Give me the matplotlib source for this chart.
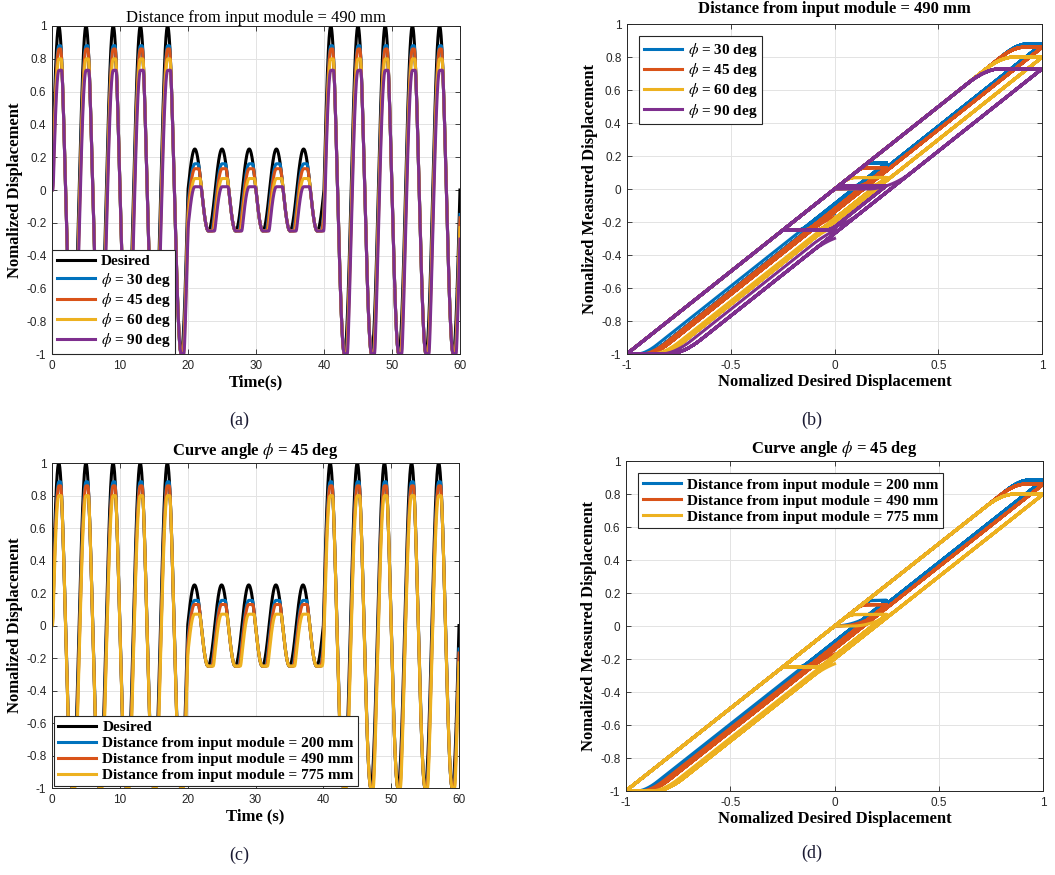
import numpy as np
import matplotlib

matplotlib.use("Agg")
import matplotlib.pyplot as plt
from matplotlib.ticker import FormatStrFormatter

# input signal: three sine blocks, period 4 s
seg_starts = [0.0, 20.0, 40.0]
seg_amps = [1.0, 0.25, 1.0]
period = 4.0
t_end = 60.0

# panel (a)/(b): curve angle at 490 mm
angle_labels = [r"$\phi$ = 30 deg", r"$\phi$ = 45 deg", r"$\phi$ = 60 deg", r"$\phi$ = 90 deg"]
angle_peak_high = [0.88, 0.86, 0.80, 0.73]
angle_peak_low = [0.16, 0.13, 0.07, 0.02]

# panel (c)/(d): distance at 45 deg
dist_labels = [
    "Distance from input module = 200 mm",
    "Distance from input module = 490 mm",
    "Distance from input module = 775 mm",
]
dist_peak_high = [0.885, 0.86, 0.80]
dist_peak_low = [0.155, 0.13, 0.07]

y_ticks = [-1, -0.8, -0.6, -0.4, -0.2, 0, 0.2, 0.4, 0.6, 0.8, 1]
colors4 = ["#0072BD", "#D95319", "#EDB120", "#7E2F8E"]

plt.rcParams["font.family"] = ["Liberation Sans", "DejaVu Sans"]
plt.rcParams["mathtext.fontset"] = "stix"
plt.rcParams["axes.unicode_minus"] = False

SERIF = ["Liberation Serif", "DejaVu Serif"]


def desired_signal():
    t = np.linspace(0.0, t_end, 6001)
    amp = np.zeros_like(t)
    for start, a in zip(seg_starts, seg_amps):
        amp[t >= start] = a
    return t, amp * np.sin(2 * np.pi * t / period)


def measured_signal(t, x, peak_high, peak_low):
    # backlash (play) response, width set so the peaks match the read values;
    # the width changes at the trough just before each block
    widths = np.zeros_like(t)
    for start, a in zip(seg_starts, seg_amps):
        w = a - (peak_high if a > 0.5 else peak_low)
        widths[t >= max(start - period / 4, 0.0)] = w
    y = np.zeros_like(x)
    prev = 0.0
    for i in range(len(x)):
        prev = min(x[i], max(x[i] - widths[i], prev))
        y[i] = prev
    n = 15
    padded = np.pad(y, n, mode="edge")
    kernel = np.ones(n) / n
    return np.convolve(padded, kernel, mode="same")[n:-n]


def style_axes(ax):
    ax.grid(True, color="#e3e3e3", linewidth=0.7)
    ax.set_axisbelow(True)
    ax.tick_params(direction="in", length=3.5, width=0.6, labelsize=8.5,
                   colors="#262626", top=True, right=True, pad=4)
    for spine in ax.spines.values():
        spine.set_color("#262626")
        spine.set_linewidth(0.7)
    ax.set_ylim(-1, 1)
    ax.set_yticks(y_ticks)
    ax.yaxis.set_major_formatter(FormatStrFormatter("%g"))
    ax.xaxis.set_major_formatter(FormatStrFormatter("%g"))


def legend(ax, **kw):
    leg = ax.legend(prop={"family": SERIF, "weight": "bold", "size": 11},
                    fancybox=False, edgecolor="#262626", framealpha=1,
                    handlelength=2.5, handletextpad=0.4, labelspacing=0.15,
                    borderpad=0.3, **kw)
    leg.get_frame().set_linewidth(0.8)
    return leg


t, x = desired_signal()

fig = plt.figure(figsize=(10.55, 8.75), dpi=100)
ax_a = fig.add_axes([0.0493, 0.5954, 0.3867, 0.3749])
ax_b = fig.add_axes([0.5943, 0.5954, 0.3934, 0.3771])
ax_c = fig.add_axes([0.0493, 0.0994, 0.3858, 0.3714])
ax_d = fig.add_axes([0.5934, 0.0960, 0.3953, 0.3771])

# (a) time histories, varying angle
ax_a.plot(t, x, color="black", lw=2.2, label="Desired")
for label, ph, pl, c in zip(angle_labels, angle_peak_high, angle_peak_low, colors4):
    y = measured_signal(t, x, ph, pl)
    ax_a.plot(t, y, color=c, lw=2.2, label=label)
    ax_b.plot(x, y, color=c, lw=2.2, label=label)

# (c) time histories, varying distance
ax_c.plot(t, x, color="black", lw=2.2, label="Desired")
for label, ph, pl, c in zip(dist_labels, dist_peak_high, dist_peak_low, colors4):
    y = measured_signal(t, x, ph, pl)
    ax_c.plot(t, y, color=c, lw=2.2, label=label)
    ax_d.plot(x, y, color=c, lw=2.2, label=label)

for ax in (ax_a, ax_c):
    style_axes(ax)
    ax.set_xlim(0, 60)
    ax.set_xticks(range(0, 61, 10))
    ax.set_ylabel("Nomalized Displacement", family=SERIF, weight="bold", size=12, labelpad=2)

for ax in (ax_b, ax_d):
    style_axes(ax)
    ax.set_xlim(-1, 1)
    ax.set_xticks([-1, -0.5, 0, 0.5, 1])
    ax.set_xlabel("Nomalized Desired Displacement", family=SERIF, weight="bold", size=12, labelpad=2)
    ax.set_ylabel("Nomalized Measured Displacement", family=SERIF, weight="bold", size=12, labelpad=2)

ax_a.set_xlabel("Time(s)", family=SERIF, weight="bold", size=12, labelpad=2)
ax_c.set_xlabel("Time (s)", family=SERIF, weight="bold", size=12, labelpad=2)

ax_a.set_title("Distance from input module = 490 mm", family=SERIF, size=12, pad=3)
ax_b.set_title("Distance from input module = 490 mm", family=SERIF, weight="bold", size=12, pad=8)
ax_c.set_title(r"Curve angle $\phi$ = 45 deg", family=SERIF, weight="bold", size=12, pad=6)
ax_d.set_title(r"Curve angle $\phi$ = 45 deg", family=SERIF, weight="bold", size=12, pad=6)

legend(ax_a, loc="lower left", borderaxespad=0.0)
legend(ax_b, loc="upper left", borderaxespad=0.8)
legend(ax_c, loc="lower left", borderaxespad=0.1)
legend(ax_d, loc="upper left", borderaxespad=0.8)

for label, xp, yp in [("(a)", 239, 420), ("(b)", 812, 420), ("(c)", 239, 855), ("(d)", 812, 853)]:
    fig.text(xp / 1055, 1 - yp / 875, label, family=SERIF, size=13, color="#1b1b33",
             ha="center", va="center")

fig.savefig("out.png", dpi=100)
